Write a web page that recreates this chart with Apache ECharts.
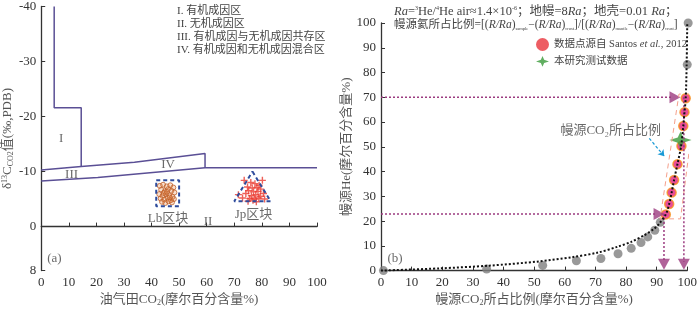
<!DOCTYPE html>
<html><head><meta charset="utf-8">
<script src="https://cdn.jsdelivr.net/npm/echarts@6/dist/echarts.min.js"></script>
<style>html,body{margin:0;padding:0;background:#fff}#c{width:700px;height:312px}</style>
</head><body><div id="c"></div>
<script>
// ---------- Panel (a) data ----------
var zoneLineA = [[4.7,-40],[4.7,-21.6],[14.5,-21.6],[14.5,-10.9]];
var zoneUpper = [[0,-10.3],[14.5,-10.9],[33.8,-11.7],[59.4,-13.3],[59.4,-10.7]];
var zoneLower = [[0,-8.3],[20.5,-8.9],[59.4,-10.7],[100,-10.7]];
var lbX = [43.0,44.2,45.5,46.8,47.9,43.5,44.8,46.0,47.2,48.3,42.8,44.0,45.2,46.4,47.6,43.3,44.6,45.8,47.0,48.1,43.8,45.0,46.2,47.4,44.4,45.6,46.6];
var lbY = [-7.4,-7.6,-7.3,-7.5,-7.1,-6.7,-6.4,-6.8,-6.5,-6.2,-5.9,-5.6,-5.9,-5.7,-5.4,-5.1,-4.9,-5.2,-4.8,-5.0,-4.5,-4.3,-4.6,-4.4,-6.1,-6.3,-5.3];
var lbBox = [[41.7,-8.4],[50,-8.4],[50,-3.7],[41.7,-3.7],[41.7,-8.4]];
var jpX = [73.6,80.2,71.5,76.0,77.5,79.0,74.8,76.5,78.2,79.6,75.2,77.0,78.6,80.6,74.2,76.2,77.8,79.4,75.6,77.4,78.9,73.0,76.8,75.0,78.0,81.0];
var jpY = [-8.4,-8.4,-5.8,-8.0,-7.8,-7.5,-7.2,-7.0,-7.1,-6.8,-6.5,-6.3,-6.4,-6.0,-6.0,-5.6,-5.8,-5.5,-5.1,-5.0,-5.2,-5.2,-4.8,-4.6,-4.5,-5.0];
var jpTri = [[76.6,-10.0],[83.2,-4.6],[70.0,-4.6],[76.6,-10.0]];
var zoneLabels = [[7.2,-16,'I'],[60.5,-1.0,'II'],[11,-9.4,'III'],[46,-11.3,'IV'],[46,-1.4,'Lb区块'],[77,-2.2,'Jp区块'],[4.8,5.8,'(a)']];
// ---------- Panel (b) data ----------
var grayX = [0.8,34.5,52.8,63.8,71.8,77.4,81.7,84.9,87.1,89.4,91.2,100,100.3];
var grayY = [0,0.6,2.1,4.0,4.9,6.8,9.0,11.3,13.6,16.3,19.5,83.2,100];
var pinkX = [93.0,94.1,94.9,95.7,96.8,98.1,98.7,99.1,99.5];
var pinkY = [22.7,26.9,31.5,36.6,43.0,50.3,58.4,64.0,69.6];
var starX = [97.8];
var starY = [52.7];
var curveX = [0,19.2,35.3,51.5,62.3,70.9,77.4,81.7,86.0,89.2,90.8,93.0,94.1,94.9,95.7,96.8,98.0,98.7,99.1,99.5,99.8,100];
var curveY = [0,0.9,2.0,3.7,5.4,7.3,9.7,11.6,14.3,16.9,18.9,22.7,26.9,31.5,36.6,43.0,50.3,58.4,64.0,69.6,83,100];
var guideH70 = [[0,70],[95,70]];
var guideH23 = [[0,22.9],[89.8,22.9]];
var guideV1 = [[92.4,22.9],[92.4,3.5]];
var guideV2 = [[98.9,70],[98.9,3.5]];
var arrowsRight = [[96.0,70],[90.8,22.9]];
var arrowsDown = [[92.4,2.6],[98.9,2.6]];
var pinkBox = [[91.1,20.9],[97.8,20.9],[103,71.3],[97.3,71.3],[91.1,20.9]];
var cyanArrow = [[87.6,53.4],[92.5,46.2]];
var bLabels = [[75,56.4,'幔源CO₂所占比例'],[4.6,4.8,'(b)']];

var serif = '"Liberation Serif","DejaVu Serif","Noto Sans CJK SC",serif';
var purple = '#9c3b80';
var starPath = 'path://M0,-10 L3,-3 L12,0 L3,3 L0,10 L-3,3 L-12,0 L-3,-3 Z';

function zip(xs, ys){ return xs.map(function(x,i){return [x, ys[i]];}); }

var chart = echarts.init(document.getElementById('c'));
var axisCommon = {
  axisLine:{show:true, lineStyle:{color:'#333', width:1.3}},
  axisTick:{show:true, inside:true, length:4, lineStyle:{color:'#333'}},
  splitLine:{show:false},
  axisLabel:{color:'#333', fontFamily:serif, fontSize:13, margin:5}
};
function ax(extra){ return Object.assign({}, JSON.parse(JSON.stringify(axisCommon)), extra); }
var nameRich = {
  n:{fontFamily:serif, fontSize:13, color:'#555'},
  b:{fontFamily:serif, fontSize:8, color:'#555', verticalAlign:'bottom', padding:[6,0,0,0]},
  s:{fontFamily:serif, fontSize:8, color:'#555', verticalAlign:'top', padding:[0,0,6,0]}
};

var option = {
  animation:false,
  backgroundColor:'#fff',
  title:[
    {left:172, top:0, text:'I. 有机成因区\nII. 无机成因区\nIII. 有机成因与无机成因共存区\nIV. 有机成因和无机成因混合区',
     textStyle:{fontFamily:serif, fontSize:11, lineHeight:13, color:'#444', fontWeight:'normal'}},
    {left:389, top:0,
     text:'{i|Ra}{n|=}{s|3}{n|He/}{s|4}{n|He air≈1.4×10}{s|-6}{n|；地幔=8}{i|Ra}{n|；地壳=0.01 }{i|Ra}{n|；}\n{m|幔源氦所占比例=[(}{j|R/Ra}{m|)}{b|sample}{m|−(}{j|R/Ra}{m|)}{b|crust}{m|]/[(}{j|R/Ra}{m|)}{b|mantle}{m|−(}{j|R/Ra}{m|)}{b|crust}{m|]}',
     textStyle:{fontFamily:serif, fontSize:12, color:'#444', fontWeight:'normal',
       rich:{
         n:{fontFamily:serif, fontSize:12.5, color:'#444', lineHeight:13},
         i:{fontFamily:serif, fontSize:12.5, color:'#444', fontStyle:'italic', lineHeight:13},
         m:{fontFamily:serif, fontSize:11.5, color:'#444', lineHeight:13},
         j:{fontFamily:serif, fontSize:11.5, color:'#444', fontStyle:'italic', lineHeight:13},
         s:{fontFamily:serif, fontSize:6, color:'#444', verticalAlign:'top', lineHeight:13},
         b:{fontFamily:serif, fontSize:4.5, color:'#444', verticalAlign:'bottom', lineHeight:13}
       }}}
  ],
  legend:{
    left:531, top:33, orient:'vertical', itemGap:5, itemWidth:13, itemHeight:13,
    data:[
      {name:'pink', icon:'circle', itemStyle:{color:'#e8343c', borderWidth:0}},
      {name:'star', icon:starPath, itemStyle:{color:'#3a9a3a', borderWidth:0}}
    ],
    formatter:function(n){ return n==='pink' ? '{a|数据点源自 Santos }{i|et al.}{a|, 2012}' : '{a|本研究测试数据}'; },
    textStyle:{rich:{a:{fontFamily:serif, fontSize:10.5, color:'#444'}, i:{fontFamily:serif, fontSize:10.5, color:'#444', fontStyle:'italic'}}}
  },
  grid:[
    {left:40, top:5, width:277, height:271},
    {left:381, top:23, width:309, height:251}
  ],
  xAxis:[
    ax({gridIndex:0, type:'value', min:0, max:100, interval:10,
        name:'{n|油气田CO}{b|2}{n|(摩尔百分含量%)}', nameLocation:'middle', nameGap:22,
        nameTextStyle:{rich:nameRich}}),
    ax({gridIndex:1, type:'value', min:0, max:100, interval:10,
        name:'{n|幔源CO}{b|2}{n|所占比例(摩尔百分含量%)}', nameLocation:'middle', nameGap:22,
        nameTextStyle:{rich:nameRich}})
  ],
  yAxis:[
    ax({gridIndex:0, type:'value', min:-40, max:8, interval:10, inverse:true,
        name:'{n|δ}{s|13}{n|C}{b|CO2}{n|值(‰,PDB)}', nameLocation:'middle', nameGap:24, nameRotate:90,
        nameTextStyle:{rich:nameRich}}),
    ax({gridIndex:1, type:'value', min:0, max:100, interval:10,
        name:'{n|幔源He(摩尔百分含量%)}', nameLocation:'middle', nameGap:22, nameRotate:90,
        nameTextStyle:{rich:nameRich}})
  ],
  series:[
    // ---- panel a ----
    {type:'line', xAxisIndex:0, yAxisIndex:0, data:zoneLineA, symbol:'none', lineStyle:{color:'#5a4f95', width:1.5}},
    {type:'line', xAxisIndex:0, yAxisIndex:0, data:zoneUpper, symbol:'none', lineStyle:{color:'#5a4f95', width:1.5}},
    {type:'line', xAxisIndex:0, yAxisIndex:0, data:zoneLower, symbol:'none', lineStyle:{color:'#5a4f95', width:1.5}},
    {type:'line', xAxisIndex:0, yAxisIndex:0, data:lbBox, symbol:'none', lineStyle:{color:'#2f4c9c', width:2, type:[4,3]}},
    {type:'line', xAxisIndex:0, yAxisIndex:0, data:jpTri, symbol:'none', lineStyle:{color:'#2f4c9c', width:2, type:[4,3]}},
    {type:'scatter', xAxisIndex:0, yAxisIndex:0, data:zip(lbX,lbY), symbol:'circle', symbolSize:5,
     itemStyle:{color:'rgba(230,140,80,0.35)', borderColor:'#c0602a', borderWidth:1}},
    {type:'scatter', xAxisIndex:0, yAxisIndex:0, data:zip(jpX,jpY), symbol:'path://M4,0H6V4H10V6H6V10H4V6H0V4H4Z', symbolSize:7,
     itemStyle:{color:'#ea3a30'}},
    {type:'scatter', xAxisIndex:0, yAxisIndex:0, symbolSize:1, itemStyle:{color:'rgba(0,0,0,0)'},
     data:zoneLabels.map(function(d){return {value:[d[0],d[1]], name:d[2]};}),
     label:{show:true, position:'inside', formatter:'{b}', fontFamily:serif, fontSize:13, color:'#444'}},
    // ---- panel b ----
    {type:'line', xAxisIndex:1, yAxisIndex:1, data:pinkBox, symbol:'none', clip:false, lineStyle:{color:'#f5a08c', width:1, type:[5,4]}},
    {type:'line', xAxisIndex:1, yAxisIndex:1, data:guideH70, symbol:'none', lineStyle:{color:purple, width:1.5, type:[2,2]}},
    {type:'line', xAxisIndex:1, yAxisIndex:1, data:guideH23, symbol:'none', lineStyle:{color:purple, width:1.5, type:[2,2]}},
    {type:'line', xAxisIndex:1, yAxisIndex:1, data:guideV1, symbol:'none', lineStyle:{color:purple, width:1.5, type:[2,2]}},
    {type:'line', xAxisIndex:1, yAxisIndex:1, data:guideV2, symbol:'none', lineStyle:{color:purple, width:1.5, type:[2,2]}},
    {type:'line', xAxisIndex:1, yAxisIndex:1, data:zip(curveX,curveY), symbol:'none', smooth:0.3, clip:false,
     lineStyle:{color:'#111', width:2, type:[2,2]}},
    {type:'scatter', xAxisIndex:1, yAxisIndex:1, data:zip(grayX,grayY), symbolSize:9, clip:false,
     itemStyle:{color:'#808080'}},
    {name:'pink', type:'scatter', xAxisIndex:1, yAxisIndex:1, data:zip(pinkX,pinkY), symbolSize:9,
     itemStyle:{color:'#e4207e', borderColor:'#f7941d', borderWidth:1.5}},
    {name:'star', type:'scatter', xAxisIndex:1, yAxisIndex:1, data:zip(starX,starY),
     symbol:starPath, symbolSize:[22,17],
     itemStyle:{color:'#3a9a3a'}},
    {type:'scatter', xAxisIndex:1, yAxisIndex:1, data:arrowsRight, symbol:'triangle', symbolRotate:-90, symbolSize:[12,11],
     itemStyle:{color:purple}},
    {type:'scatter', xAxisIndex:1, yAxisIndex:1, data:arrowsDown, symbol:'triangle', symbolRotate:180, symbolSize:[12,11],
     itemStyle:{color:purple}},
    {type:'line', xAxisIndex:1, yAxisIndex:1, data:[], symbol:'none',
     markLine:{silent:true, symbol:['none','arrow'], symbolSize:6, label:{show:false},
       lineStyle:{color:'#1a9ad6', width:1.2, type:[3,2]},
       data:[[{coord:cyanArrow[0]},{coord:cyanArrow[1]}]]}},
    {type:'scatter', xAxisIndex:1, yAxisIndex:1, symbolSize:1, itemStyle:{color:'rgba(0,0,0,0)'},
     data:bLabels.map(function(d){return {value:[d[0],d[1]], name:d[2]};}),
     label:{show:true, position:'inside', formatter:'{b}', fontFamily:serif, fontSize:13, color:'#444'}}
  ]
};
chart.setOption(option);
</script></body></html>
